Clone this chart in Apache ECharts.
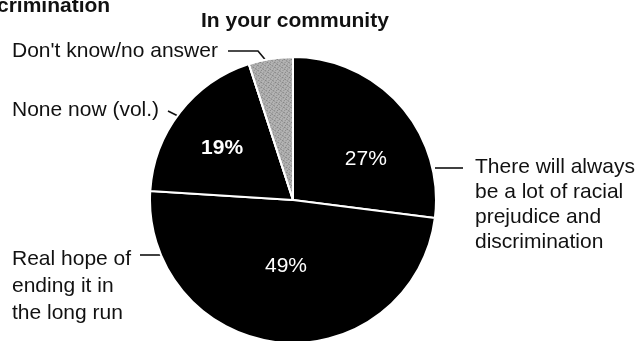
<!DOCTYPE html>
<html>
<head>
<meta charset="utf-8">
<script src="https://cdn.jsdelivr.net/npm/echarts@6/dist/echarts.min.js"></script>
<style>
  html, body { margin: 0; padding: 0; background: #fff; }
  #chart { width: 638px; height: 341px; }
</style>
</head>
<body>
<div id="chart"></div>
<script>
// ---- data ----
const chartTitle = 'In your community';
const cutHeading = 'crimination';
const categories = [
  'There will always\nbe a lot of racial\nprejudice and\ndiscrimination',
  'Real hope of\nending it in\nthe long run',
  'None now (vol.)',
  "Don't know/no answer"
];
const values = [27, 49, 19, 5];
const valueLabels = ['27%', '49%', '19%', ''];

// ---- styling ----
const FONT = '"Liberation Sans", Arial, Helvetica, sans-serif';
const sliceColors = ['#000000', '#000000', '#000000', '#b4b4b4'];
const valueLabelWeights = ['normal', 'normal', 'bold', 'normal'];
const valueLabelOffsets = [[17, 8], [0, -8], [-12, -6], [0, 0]];
const calloutLineHeights = [25, 27, 25, 25];
// callout placement (label top-left and leader line)
const callouts = [
  { x: 475, y: 155, line: [[435, 168], [449, 168], [463, 168]] },
  { x: 12,  y: 246, line: [[163, 255], [152, 255], [140, 255]] },
  { x: 12,  y: 98,  line: [[183, 119], [176, 115], [168, 111]] },
  { x: 12,  y: 39,  line: [[268, 63], [258, 51], [228, 51]] }
];

const center = [293, 200];
const radius = 143;

const chart = echarts.init(document.getElementById('chart'), null, { renderer: 'canvas' });

const pieData = categories.map((name, i) => ({
  name: name,
  value: values[i],
  itemStyle: i === 3 ? {
    color: sliceColors[i],
    decal: {
      symbol: 'rect',
      symbolSize: 0.8,
      dashArrayX: [[1, 2], [2, 1]],
      dashArrayY: [1, 1],
      rotation: 0.6,
      color: 'rgba(70,70,70,0.55)'
    }
  } : { color: sliceColors[i] },
  label: {
    show: valueLabels[i] !== '',
    formatter: valueLabels[i],
    fontWeight: valueLabelWeights[i],
    offset: valueLabelOffsets[i]
  }
}));

const calloutData = categories.map((name, i) => ({
  name: name,
  value: values[i],
  label: { lineHeight: calloutLineHeights[i] }
}));

chart.setOption({
  backgroundColor: '#ffffff',
  animation: false,
  title: [
    {
      text: chartTitle,
      left: 201, top: 9, padding: 0,
      textStyle: { fontFamily: FONT, fontSize: 21, fontWeight: 'bold', color: '#111', lineHeight: 24 }
    },
    {
      text: cutHeading,
      left: -3, top: -6, padding: 0,
      textStyle: { fontFamily: FONT, fontSize: 21, fontWeight: 'bold', color: '#111', lineHeight: 24 }
    }
  ],
  series: [
    {
      type: 'pie',
      center: center,
      radius: radius,
      startAngle: 90,
      clockwise: true,
      avoidLabelOverlap: false,
      silent: true,
      itemStyle: { borderColor: '#ffffff', borderWidth: 2 },
      label: {
        position: 'inside',
        color: '#ffffff',
        fontFamily: FONT,
        fontSize: 21
      },
      labelLine: { show: false },
      data: pieData
    },
    {
      type: 'pie',
      center: center,
      radius: radius,
      startAngle: 90,
      clockwise: true,
      avoidLabelOverlap: false,
      silent: true,
      itemStyle: { color: 'rgba(0,0,0,0)', borderWidth: 0 },
      label: {
        show: true,
        position: 'outside',
        formatter: '{b}',
        color: '#111',
        fontFamily: FONT,
        fontSize: 21,
        lineHeight: 25,
        align: 'left'
      },
      labelLine: { show: true, lineStyle: { color: '#111', width: 1.6 } },
      labelLayout: function (params) {
        const c = callouts[params.dataIndex];
        return {
          x: c.x,
          y: c.y,
          align: 'left',
          verticalAlign: 'top',
          labelLinePoints: c.line
        };
      },
      data: calloutData
    }
  ]
});
</script>
</body>
</html>
